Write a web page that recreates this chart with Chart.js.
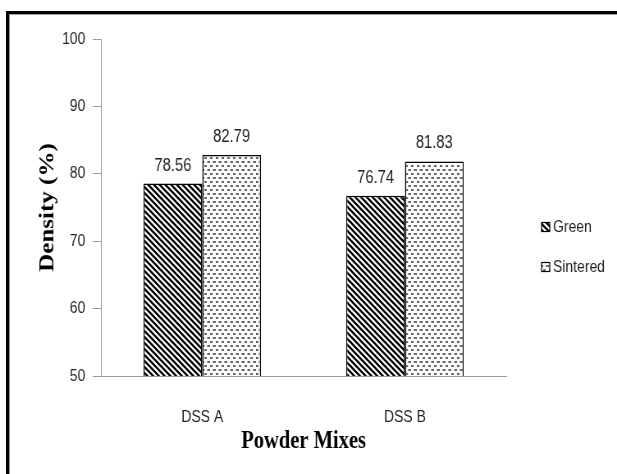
<!DOCTYPE html>
<html>
<head>
<meta charset="utf-8">
<title>Density of powder mixes</title>
<script src="https://cdn.jsdelivr.net/npm/chart.js@4.4.0/dist/chart.umd.min.js"></script>
<style>
  html, body { margin: 0; padding: 0; background: #fff; overflow: hidden; }
  /* the source picture is squeezed sideways, so the chart is drawn wider and scaled down */
  #wrap { position: absolute; left: 0; top: 0; width: 752px; height: 474px; transform: scaleX(0.8205); transform-origin: 0 0; }
  #frame { position: absolute; left: 6px; top: 11px; width: 700px; height: 500px; border-top: 3px solid #000; border-left: 3px solid #000; }
  #frame:after { content: ''; position: absolute; left: 0; top: 0; right: 0; bottom: 0; border-top: 1px solid #9a9a9a; border-left: 1px solid #9a9a9a; }
</style>
</head>
<body>
<div id="wrap"><canvas id="c" width="752" height="474"></canvas></div>
<div id="frame"></div>
<script>
const categories = ['DSS A', 'DSS B'];
const greenDensity = [78.56, 76.74];
const sinteredDensity = [82.79, 81.83];
const yTicks = [50, 60, 70, 80, 90, 100];

Chart.defaults.font.family = '"Liberation Sans", Arial, sans-serif';

// black diagonal hatch for the green compacts
function hatchPattern() {
  const w = 7, h = 6;
  const c = document.createElement('canvas');
  c.width = w; c.height = h;
  const g = c.getContext('2d');
  g.fillStyle = '#fff';
  g.fillRect(0, 0, w, h);
  g.strokeStyle = '#000';
  g.lineWidth = 2.4;
  for (const k of [-1, 0, 1]) {
    g.beginPath();
    g.moveTo(k * w - w, -h);
    g.lineTo(k * w + 2 * w, 2 * h);
    g.stroke();
  }
  return g.createPattern(c, 'repeat');
}

// grey dashed dots for the sintered ones
function dotPattern() {
  const c = document.createElement('canvas');
  c.width = 7; c.height = 8;
  const g = c.getContext('2d');
  g.fillStyle = '#fff';
  g.fillRect(0, 0, 7, 8);
  g.fillStyle = '#666';
  g.fillRect(0.5, 1, 3.5, 2);
  g.fillRect(4, 5, 3.5, 2);
  return g.createPattern(c, 'repeat');
}

const valueLabels = {
  id: 'valueLabels',
  afterDatasetsDraw(chart) {
    const ctx = chart.ctx;
    ctx.save();
    ctx.font = '18px "Liberation Sans", Arial, sans-serif';
    ctx.fillStyle = '#222';
    ctx.textAlign = 'center';
    ctx.textBaseline = 'alphabetic';
    chart.data.datasets.forEach((ds, i) => {
      chart.getDatasetMeta(i).data.forEach((bar, j) => {
        ctx.fillText(ds.data[j].toFixed(2), bar.x, bar.y - 13);
      });
    });
    ctx.restore();
  }
};

const sideLegend = {
  id: 'sideLegend',
  afterDraw(chart) {
    const ctx = chart.ctx;
    const area = chart.chartArea;
    const x = area.right + 43;
    ctx.save();
    ctx.font = '17px "Liberation Sans", Arial, sans-serif';
    ctx.textBaseline = 'middle';
    ctx.textAlign = 'left';
    chart.data.datasets.forEach((ds, i) => {
      const y = area.top + 188 + i * 40;
      ctx.fillStyle = ds.backgroundColor;
      ctx.fillRect(x, y - 4.5, 10, 9);
      ctx.strokeStyle = '#000';
      ctx.lineWidth = 1.2;
      ctx.strokeRect(x, y - 4.5, 10, 9);
      ctx.fillStyle = '#222';
      ctx.fillText(ds.label, x + 14, y);
    });
    ctx.restore();
  }
};

new Chart(document.getElementById('c'), {
  type: 'bar',
  data: {
    labels: categories,
    datasets: [
      { label: 'Green', data: greenDensity, backgroundColor: hatchPattern(), borderColor: '#000', borderWidth: 1.5 },
      { label: 'Sintered', data: sinteredDensity, backgroundColor: dotPattern(), borderColor: '#000', borderWidth: 1.5 }
    ]
  },
  options: {
    responsive: false,
    animation: false,
    layout: { padding: { left: 0, top: 39, right: 135, bottom: 0 } },
    datasets: { bar: { categoryPercentage: 0.58, barPercentage: 1 } },
    plugins: { legend: { display: false }, tooltip: { enabled: false } },
    scales: {
      x: {
        grid: { display: false, drawTicks: false },
        border: { color: '#9a9a9a', width: 1 },
        ticks: { color: '#222', font: { size: 17 }, padding: 31 },
        title: {
          display: true, text: 'Powder Mixes', color: '#000',
          font: { family: '"Liberation Serif", "Times New Roman", serif', size: 25, weight: 'bold' },
          padding: { top: 0, bottom: 17 }
        },
        afterFit: s => { s.height = 98; }
      },
      y: {
        min: 50, max: 100,
        grid: { drawOnChartArea: false, drawTicks: true, tickLength: 10, color: '#9a9a9a' },
        border: { color: '#9a9a9a', width: 1 },
        ticks: { color: '#222', font: { size: 17 }, padding: 9 },
        afterBuildTicks: s => { s.ticks = yTicks.map(v => ({ value: v })); },
        title: {
          display: true, text: 'Density (%)', color: '#000',
          font: { family: '"Liberation Serif", "Times New Roman", serif', size: 25, weight: 'bold' },
          padding: { top: 44, bottom: 0 }
        },
        afterFit: s => { s.width = 123; }
      }
    }
  },
  plugins: [valueLabels, sideLegend]
});
</script>
</body>
</html>
